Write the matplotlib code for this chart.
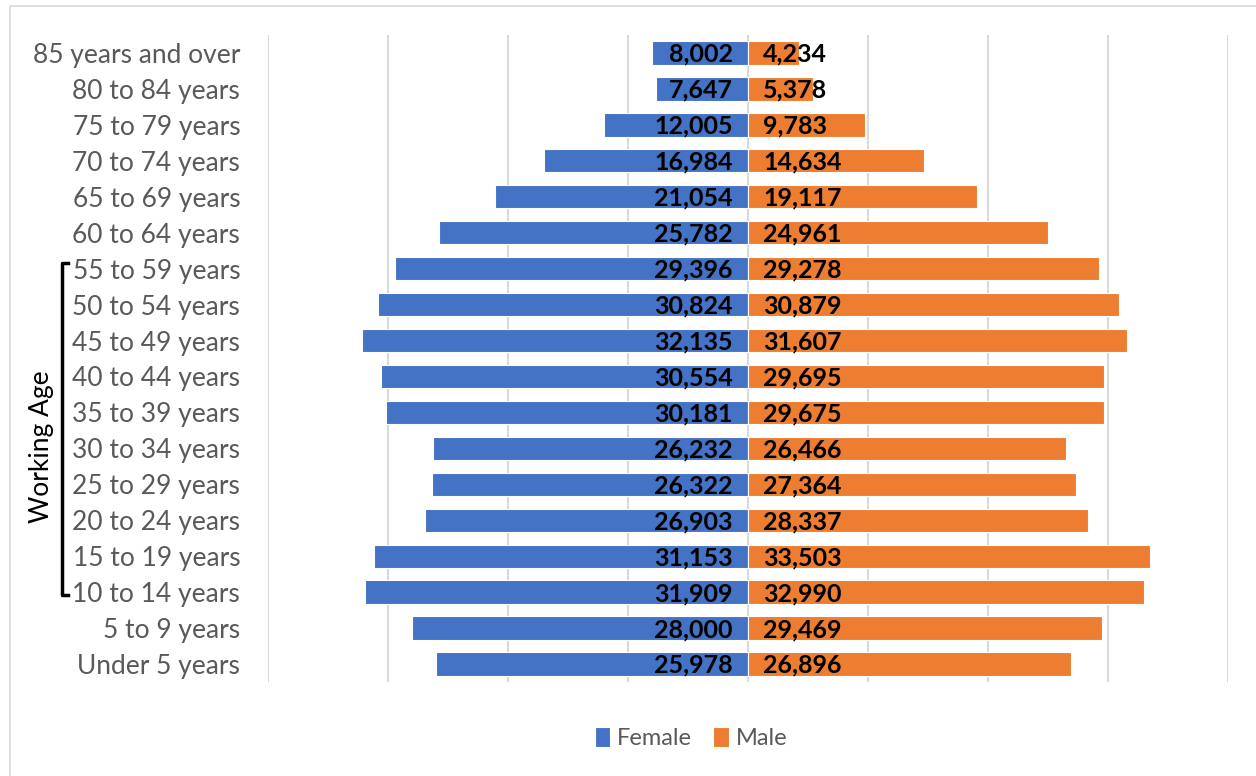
import matplotlib.pyplot as plt
from matplotlib.patches import Rectangle
from matplotlib.lines import Line2D

# age groups from oldest to youngest
grupos = ["85 years and over", "80 to 84 years", "75 to 79 years", "70 to 74 years",
          "65 to 69 years", "60 to 64 years", "55 to 59 years", "50 to 54 years",
          "45 to 49 years", "40 to 44 years", "35 to 39 years", "30 to 34 years",
          "25 to 29 years", "20 to 24 years", "15 to 19 years", "10 to 14 years",
          "5 to 9 years", "Under 5 years"]
mujeres = [8002, 7647, 12005, 16984, 21054, 25782, 29396, 30824, 32135,
           30554, 30181, 26232, 26322, 26903, 31153, 31909, 28000, 25978]
hombres = [4234, 5378, 9783, 14634, 19117, 24961, 29278, 30879, 31607,
           29695, 29675, 26466, 27364, 28337, 33503, 32990, 29469, 26896]

azul = "#4472C4"
naranjo = "#ED7D31"
gris = "#595959"
fuente = "Lato"

fig = plt.figure(figsize=(12.56, 7.76), dpi=100)
ax = fig.add_axes([268 / 1256, 1 - 682 / 776, 960 / 1256, 647 / 776])

pos = list(range(len(grupos)))
b1 = ax.barh(pos, [-v for v in mujeres], height=0.65, color=azul,
             edgecolor="white", linewidth=0.8, label="Female", zorder=2)
b2 = ax.barh(pos, hombres, height=0.65, color=naranjo,
             edgecolor="white", linewidth=0.8, label="Male", zorder=2)

# etiquetas de valores junto al eje central
for p, v in zip(pos, mujeres):
    ax.annotate(f"{v:,}", (0, p), xytext=(-11, -1), textcoords="offset points",
                ha="right", va="center", fontsize=18, fontweight="bold",
                family=fuente, color="black", zorder=3)
for p, v in zip(pos, hombres):
    ax.annotate(f"{v:,}", (0, p), xytext=(11, -1), textcoords="offset points",
                ha="left", va="center", fontsize=18, fontweight="bold",
                family=fuente, color="black", zorder=3)

ax.set_xlim(-40000, 40000)
ax.set_ylim(-0.5, len(grupos) - 0.5)
ax.invert_yaxis()
ax.set_xticks(range(-40000, 40001, 10000))
ax.set_xticklabels([])
ax.tick_params(axis="x", length=0)
ax.tick_params(axis="y", length=0, pad=20)
ax.set_yticks(pos)
ax.set_yticklabels(grupos, fontsize=19, color=gris, family=fuente)
ax.grid(axis="x", color="#D9D9D9", linewidth=1.5, zorder=0)
ax.set_axisbelow(True)
for s in ax.spines.values():
    s.set_visible(False)

leg = fig.legend(handles=[b1, b2], loc="center", bbox_to_anchor=(691 / 1256, 1 - 738 / 776),
                 ncol=2, frameon=False, handlelength=0.65, handleheight=0.9,
                 handletextpad=0.3, columnspacing=0.9, prop={"family": fuente, "size": 17})
for t in leg.get_texts():
    t.set_color(gris)

# corchete de edad de trabajar
x0, x1 = 62 / 1256, 68 / 1256
ytop, ybot = 1 - 263 / 776, 1 - 595 / 776
fig.add_artist(Line2D([x1, x0, x0, x1], [ytop, ytop, ybot, ybot],
                      color="black", linewidth=2.5, transform=fig.transFigure))
fig.text(42 / 1256, 1 - 447 / 776, "Working Age", rotation=90, ha="center", va="center",
         fontsize=19, family=fuente, color="black")

# marco del grafico
fig.add_artist(Rectangle((10 / 1256, -0.1), 1.2, 1.1 - 6 / 776, transform=fig.transFigure,
                         fill=False, edgecolor="#D9D9D9", linewidth=1.2))

fig.savefig("out.png", dpi=100)
